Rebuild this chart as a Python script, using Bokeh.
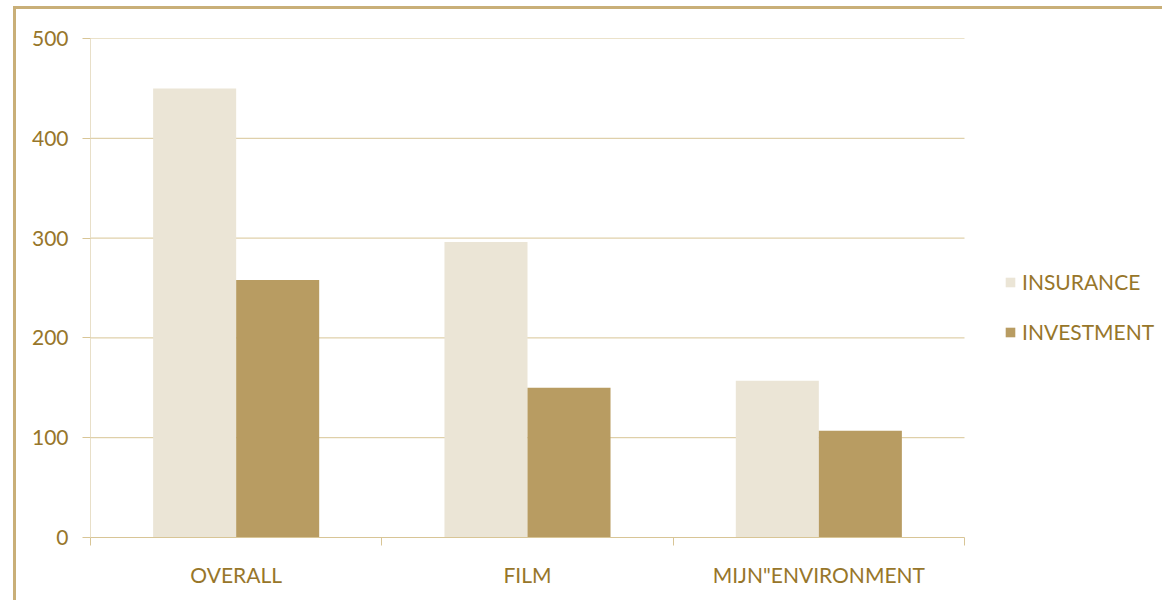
from bokeh.plotting import figure
from bokeh.models import (ColumnDataSource, FixedTicker, Legend, LegendItem,
                          Range1d)
from bokeh.transform import dodge
from bokeh.embed import file_html
from bokeh.resources import INLINE

categories = ["OVERALL", "FILM", "MIJN\"ENVIRONMENT"]
insurance = [450, 296, 157]
investment = [258, 150, 107]
y_ticks = [0, 100, 200, 300, 400, 500]

TEXT = "#97762A"
GRID = "#D8C596"
LIGHT = "#EBE5D6"
DARK = "#B89C62"
FRAME = "#C9AF78"
FONT = "Lato"

# page geometry: outer frame offset, plot area and legend column
OFF_X, OFF_Y = 16, 9
W, H = 1165 - OFF_X, 603 - OFF_Y
LEFT, TOP, BOTTOM = 90 - OFF_X, 38 - OFF_Y, 66
AXIS_W = 874                       # width of the bar area in px
FRAME_W = W - LEFT                 # frame runs to the right edge (legend lives there)

n = len(categories)
x_end = n * FRAME_W / AXIS_W

centers = [i + 0.5 for i in range(n)]
src = ColumnDataSource(dict(x=centers, cat=categories, ins=insurance, inv=investment))
grid_src = ColumnDataSource(dict(y=y_ticks[1:], x0=[0] * (len(y_ticks) - 1),
                                 x1=[n] * (len(y_ticks) - 1)))

p = figure(width=W, height=H, output_backend="svg", toolbar_location=None,
           x_range=Range1d(0, x_end), y_range=Range1d(0, 500),
           min_border_left=LEFT, min_border_right=0, min_border_top=TOP,
           min_border_bottom=BOTTOM)
p.outline_line_color = None
p.background_fill_color = "white"
p.border_fill_color = "white"
p.xgrid.grid_line_color = None
p.ygrid.grid_line_color = None

# horizontal gridlines only across the bar area
p.segment(x0="x0", x1="x1", y0="y", y1="y", source=grid_src,
          line_color=GRID, line_width=1)

bw = 0.285
r1 = p.vbar(x=dodge("x", -bw / 2, range=p.x_range), top="ins", width=bw,
            source=src, fill_color=LIGHT, line_color=None)
r2 = p.vbar(x=dodge("x", bw / 2, range=p.x_range), top="inv", width=bw,
            source=src, fill_color=DARK, line_color=None)

# x axis: labels at category centers, boundary ticks as minor ticks
xa = p.xaxis[0]
xa.bounds = (0, n)
xa.ticker = FixedTicker(ticks=centers, minor_ticks=list(range(n + 1)))
xa.major_label_overrides = {c: name for c, name in zip(centers, categories)}
xa.major_tick_line_color = None
xa.minor_tick_in = 0
xa.minor_tick_out = 8
xa.minor_tick_line_color = GRID
xa.axis_line_color = GRID
xa.major_label_text_color = TEXT
xa.major_label_text_font = FONT
xa.major_label_text_font_size = "21px"
xa.major_label_standoff = 16

ya = p.yaxis[0]
ya.ticker = FixedTicker(ticks=y_ticks)
ya.minor_tick_line_color = None
ya.major_tick_in = 0
ya.major_tick_out = 8
ya.major_tick_line_color = GRID
ya.axis_line_color = "#E8DFC8"
ya.major_label_text_color = TEXT
ya.major_label_text_font = FONT
ya.major_label_text_font_size = "21px"
ya.major_label_standoff = 14

legend = Legend(items=[LegendItem(label="INSURANCE", renderers=[r1]),
                       LegendItem(label="INVESTMENT", renderers=[r2])],
                location=(AXIS_W + 40, 193), border_line_color=None,
                background_fill_alpha=0, padding=0, margin=0,
                glyph_width=12, glyph_height=12, label_height=20,
                spacing=25, label_standoff=6,
                label_text_color=TEXT, label_text_font=FONT,
                label_text_font_size="21px")
p.add_layout(legend, "center")

# outer frame of the chart area
p.margin = (OFF_Y - 3, 0, 0, OFF_X - 3)
p.styles = {"border-left": f"3px solid {FRAME}", "border-top": f"3px solid {FRAME}"}

open("out.html", "w").write(file_html(p, INLINE))
